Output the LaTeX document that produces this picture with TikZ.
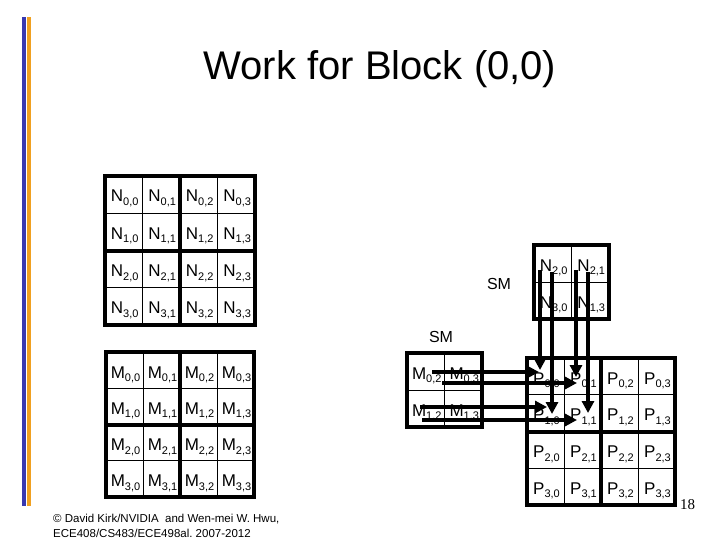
\documentclass[tikz,border=0pt]{standalone}
\usepackage{fontspec}
\setmainfont{Liberation Sans}
\newfontfamily\pagenumfont{Liberation Serif}
\usetikzlibrary{arrows.meta}
\definecolor{barblue}{RGB}{56,56,176}
\definecolor{barorange}{RGB}{240,160,32}
\newcommand\cellfont{\fontsize{17}{17}\selectfont}
\newcommand\cellsub[1]{\raisebox{-3.5pt}{\fontsize{11}{11}\selectfont #1}}
\newcommand\lbl[3]{#1\cellsub{#2,#3}}
\tikzset{
  outerline/.style={line width=4pt},
  thinline/.style={line width=1pt},
  celltext/.style={anchor=base, inner sep=0pt, font=\cellfont},
  flow/.style={line width=4pt, -{Triangle[width=12pt,length=12pt]}},
  smlabel/.style={inner sep=0pt, font=\fontsize{16}{16}\selectfont},
}
% #1 letter, #2 x0, #3 y0, #4 width, #5 height
\newcommand\quadgrid[5]{%
  \foreach \r in {0,...,3}{
    \foreach \c in {0,...,3}{
      \node[celltext] (#1\r\c) at ({#2+(\c+0.5)*#4/4+1},{#3+\r*#5/4+26}) {\lbl{#1}{\r}{\c}};
    }
  }
  \foreach \i in {1,3}{
    \draw[thinline] ({#2+\i*#4/4},#3) -- ({#2+\i*#4/4},{#3+#5});
    \draw[thinline] (#2,{#3+\i*#5/4}) -- ({#2+#4},{#3+\i*#5/4});
  }
  \draw[outerline] ({#2+#4/2},#3) -- ({#2+#4/2},{#3+#5});
  \draw[outerline] (#2,{#3+#5/2}) -- ({#2+#4},{#3+#5/2});
  \draw[outerline] (#2,#3) rectangle ({#2+#4},{#3+#5});
}
\begin{document}
\begin{tikzpicture}[x=1pt,y=-1pt]
\useasboundingbox (0,0) rectangle (720,540);
\fill[white] (0,0) rectangle (720,540);
\fill[barblue] (22,17) rectangle (26,506);
\fill[barorange] (27,17) rectangle (31,506);

\node[anchor=base, inner sep=0pt, font=\fontsize{40}{40}\selectfont] (title) at (380,80) {Work for Block (0,0)};

\quadgrid{N}{105}{176}{150}{149}
\quadgrid{M}{106}{352}{148}{145}
\quadgrid{P}{527}{358}{148}{147}

% small N tile
\node[celltext] (sn20) at (553.75,271) {\lbl{N}{2}{0}};
\node[celltext] (sn21) at (591.25,271) {\lbl{N}{2}{1}};
\node[celltext] (sn30) at (553.75,308) {\lbl{N}{3}{0}};
\node[celltext] (sn31) at (591.25,308) {\lbl{N}{1}{3}};
\draw[thinline] (571.5,245) -- (571.5,319);
\draw[thinline] (534,282) -- (609,282);
\draw[outerline] (534,245) rectangle (609,319);

% small M tile
\node[celltext] (sm02) at (426.75,379) {\lbl{M}{0}{2}};
\node[celltext] (sm03) at (464.25,379) {\lbl{M}{0}{3}};
\node[celltext] (sm12) at (426.75,416) {\lbl{M}{1}{2}};
\node[celltext] (sm13) at (464.25,416) {\lbl{M}{1}{3}};
\draw[thinline] (444.5,353) -- (444.5,427);
\draw[thinline] (407,390) -- (482,390);
\draw[outerline] (407,353) rectangle (482,427);

\node[smlabel] (sm1) at (499,284) {SM};
\node[smlabel] (sm2) at (441,337) {SM};

% arrow end points
\coordinate (v1s) at (540,270); \coordinate (v1e) at (540,370);
\coordinate (v2s) at (552,272); \coordinate (v2e) at (552,414);
\coordinate (v3s) at (576,270); \coordinate (v3e) at (576,377);
\coordinate (v4s) at (588,272); \coordinate (v4e) at (588,413);
\coordinate (h1s) at (432,372); \coordinate (h1e) at (539,372);
\coordinate (h2s) at (442,383); \coordinate (h2e) at (577,383);
\coordinate (h3s) at (420,407); \coordinate (h3e) at (547,407);
\coordinate (h4s) at (422,420); \coordinate (h4e) at (577,420);
\draw[flow] (v1s) -- (v1e);
\draw[flow] (v2s) -- (v2e);
\draw[flow] (v3s) -- (v3e);
\draw[flow] (v4s) -- (v4e);
\draw[flow] (h1s) -- (h1e);
\draw[flow] (h2s) -- (h2e);
\draw[flow] (h3s) -- (h3e);
\draw[flow] (h4s) -- (h4e);

\node[anchor=base west, inner sep=0pt, font=\fontsize{11.5}{11.5}\selectfont] (copy1) at (53,522) {© David Kirk/NVIDIA\ \ and Wen-mei W. Hwu,};
\node[anchor=base west, inner sep=0pt, font=\fontsize{11.5}{11.5}\selectfont] (copy2) at (53,537) {ECE408/CS483/ECE498al.\ 2007-2012};
\node[anchor=base west, inner sep=0pt, font=\pagenumfont\fontsize{15}{15}\selectfont] (pnum) at (680,509) {18};
\end{tikzpicture}
\end{document}
